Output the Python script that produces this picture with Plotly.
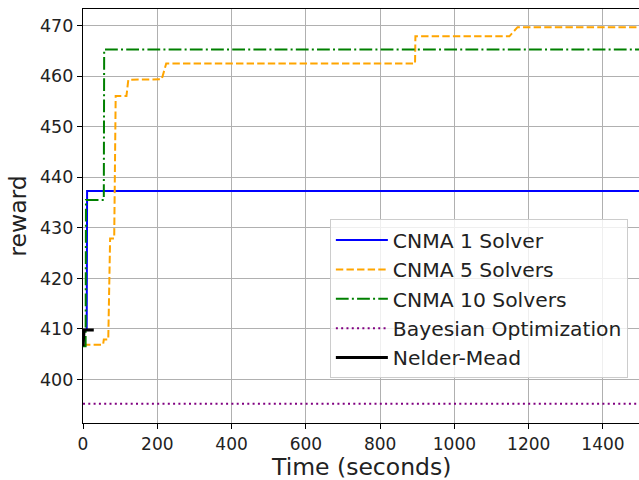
import plotly.graph_objects as go

# ---- data ----
t_cnma1 = [0, 10, 11, 1500]
r_cnma1 = [409.8, 409.8, 437.3, 437.3]

t_cnma5 = [0, 54, 56, 68, 73, 84, 88, 117, 122, 212, 224, 894, 895, 1148, 1170, 1500]
r_cnma5 = [406.9, 406.9, 407.9, 407.9, 427.9, 427.9, 456.1, 456.1, 459.3, 459.4,
           462.5, 462.5, 467.9, 467.9, 469.7, 469.7]

t_cnma10 = [0, 7, 8, 56, 57, 1500]
r_cnma10 = [406.6, 406.6, 435.5, 435.5, 465.3, 465.3]

t_bayes = [0, 1500]
r_bayes = [395.2, 395.2]

t_nm = [0, 3, 29]
r_nm = [406.6, 409.8, 409.8]

x_ticks = [0, 200, 400, 600, 800, 1000, 1200, 1400]
y_ticks = [400, 410, 420, 430, 440, 450, 460, 470]

FONT = "DejaVu Sans"

fig = go.Figure()
fig.add_trace(go.Scatter(x=t_cnma1, y=r_cnma1, mode="lines", name="CNMA 1 Solver",
                         line=dict(color="#0000ff", width=2), legendgroup="a"))
fig.add_trace(go.Scatter(x=t_cnma5, y=r_cnma5, mode="lines", name="CNMA 5 Solvers",
                         line=dict(color="#ffa500", width=2, dash="7.4px,3.2px"), legendgroup="b"))
fig.add_trace(go.Scatter(x=t_cnma10, y=r_cnma10, mode="lines", name="CNMA 10 Solvers",
                         line=dict(color="#008000", width=2, dash="12.8px,3.2px,2px,3.2px"), legendgroup="c"))
fig.add_trace(go.Scatter(x=t_bayes, y=r_bayes, mode="lines", name="Bayesian Optimization",
                         line=dict(color="#800080", width=2, dash="2px,3.3px"), legendgroup="d"))
fig.add_trace(go.Scatter(x=t_nm, y=r_nm, mode="lines", name="Nelder-Mead",
                         line=dict(color="#000000", width=3), legendgroup="e"))

fig.update_layout(
    width=639, height=480,
    margin=dict(l=83, r=0, t=9, b=57),
    paper_bgcolor="white", plot_bgcolor="white",
    font=dict(family=FONT, size=17.5, color="#222222"),
    legend=dict(x=0.444, y=0.492, xanchor="left", yanchor="top",
                bgcolor="rgba(255,255,255,0.8)", bordercolor="#cccccc", borderwidth=1,
                font=dict(family=FONT, size=20.3, color="#222222"),
                tracegroupgap=0, itemwidth=52),
    annotations=[dict(text="Time (seconds)", xref="paper", yref="paper", x=0.5, y=0,
                      xanchor="center", yanchor="top", yshift=-28, showarrow=False,
                      font=dict(family=FONT, size=23.5, color="#222222"))],
)
fig.update_xaxes(
    range=[0, 1497], tickvals=x_ticks, ticktext=[str(v) for v in x_ticks],
    showgrid=True, gridcolor="#b0b0b0", gridwidth=1,
    showline=True, linecolor="black", linewidth=1.3, mirror=True,
    ticks="outside", ticklen=5, tickcolor="black",
    tickfont=dict(family=FONT, size=17, color="#222222"),
    zeroline=False,
)
fig.update_yaxes(
    range=[391.4, 473.3], tickvals=y_ticks, ticktext=[str(v) for v in y_ticks],
    showgrid=True, gridcolor="#b0b0b0", gridwidth=1,
    showline=True, linecolor="black", linewidth=1.3, mirror=False,
    ticks="outside", ticklen=5, tickcolor="black",
    title=dict(text="reward", font=dict(family=FONT, size=23.5, color="#222222"), standoff=6),
    zeroline=False,
)

fig.write_html("out.html")
